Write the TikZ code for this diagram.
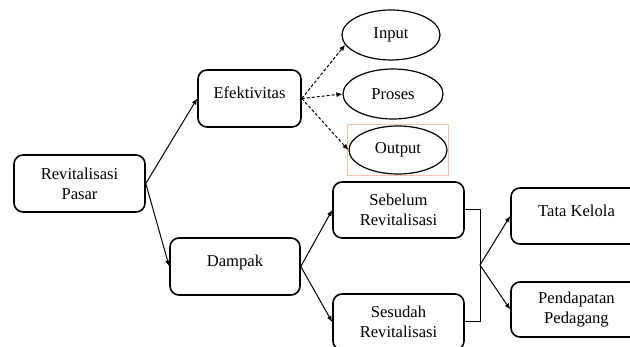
\documentclass[tikz,border=0pt]{standalone}
\usepackage{fontspec}
\setmainfont{Liberation Serif}
\usepackage{tikz}
\usetikzlibrary{arrows.meta, shapes.geometric}

\definecolor{framecol}{RGB}{244,196,170}

\begin{document}
\begin{tikzpicture}[x=1pt, y=-1pt,
    font=\fontsize{16.6}{20}\selectfont,
    box/.style={draw, line width=1.6pt, rounded corners=9pt, align=center,
        minimum width=131pt, minimum height=57pt, inner sep=2pt},
    single/.style={text height=11pt, text depth=10pt},
    oval/.style={draw, ellipse, line width=1.2pt, minimum width=98pt, minimum height=50pt, inner sep=1pt},
    link/.style={line width=1pt, -{Latex[length=6pt, width=5pt]}},
    dotlink/.style={link, dash pattern=on 3pt off 2pt}]

    % Page frame
    \useasboundingbox (0,0) rectangle (630,347);
    \clip (0,0) rectangle (630,347);

    % Boxes of the tree
    \node[box] (rev) at (79.5,183.5) {Revitalisasi\\Pasar};
    \node[box, single, minimum width=103pt] (efek) at (249.5,98.5) {Efektivitas};
    \node[box, single, minimum width=130pt] (dampak) at (235,266.5) {Dampak};
    \node[box, minimum height=56pt] (sebelum) at (398.5,210) {Sebelum\\Revitalisasi};
    \node[box, minimum height=56pt] (sesudah) at (398.5,322) {Sesudah\\Revitalisasi};
    \node[box, single, minimum height=56pt] (tata) at (576.5,216) {Tata Kelola};
    \node[box, minimum height=55pt] (pendapatan) at (576.5,309.5) {Pendapatan\\Pedagang};

    % Ovals for the effectiveness parts
    \node[oval] (input) at (391,35) {Input};
    \node[oval, minimum width=100pt] (proses) at (393,94) {Proses};
    \node[oval, minimum height=48pt] (output) at (398,150) {Output};

    % Thin frame round the output oval
    \draw[framecol, line width=0.6pt] ([shift={(-1,-1)}]output.west |- output.north)
        rectangle ([shift={(1,1)}]output.east |- output.south);

    % Solid arrows
    \draw[link] (rev.east) -- (efek.west);
    \draw[link] (rev.east) -- (dampak.west);
    \draw[link] (dampak.east) -- (sebelum.west);
    \draw[link] (dampak.east) -- (sesudah.west);

    % Dashed arrows
    \draw[dotlink] (efek.east) -- (input.192);
    \draw[dotlink] (efek.east) -- (proses.west);
    \draw[dotlink] (efek.east) -- (output.west);

    % Bracket joining both periods
    \coordinate (join) at (480,265);
    \draw[line width=1pt] (sebelum.east) -- (join |- sebelum.east) -- (join |- sesudah.east) -- (sesudah.east);
    \draw[link] (join) -- (tata.west);
    \draw[link] (join) -- (pendapatan.west);

\end{tikzpicture}
\end{document}
